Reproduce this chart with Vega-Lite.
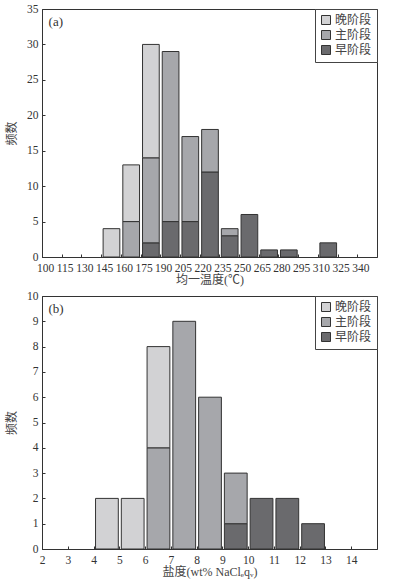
{
  "$schema": "https://vega.github.io/schema/vega-lite/v6.json",
  "padding": {"left": 5, "top": 2, "right": 10, "bottom": 2},
  "spacing": 3,
  "config": {
    "font": "Liberation Serif, Noto Sans CJK SC",
    "view": {"stroke": "#333", "strokeWidth": 1},
    "axis": {
      "domainColor": "#333", "tickColor": "#333", "tickSize": -3, "grid": false,
      "labelFont": "Liberation Serif, Noto Sans CJK SC", "labelFontSize": 11.5, "labelColor": "#333",
      "titleFont": "Liberation Serif, Noto Sans CJK SC", "titleFontSize": 12, "titleFontWeight": "normal", "titleColor": "#444",
      "labelFlush": false, "labelOverlap": false
    },
    "axisX": {"labelPadding": 8, "titlePadding": 1},
    "axisY": {"labelPadding": 7, "titlePadding": 8},
    "legend": {
      "orient": "top-right", "offset": 0, "strokeColor": "#444", "fillColor": "white", "padding": 5,
      "symbolType": "square", "symbolSize": 81, "symbolStrokeColor": "#333", "symbolStrokeWidth": 1,
      "labelFont": "Liberation Serif, Noto Sans CJK SC", "labelFontSize": 12, "labelColor": "#444",
      "labelOffset": 3, "rowPadding": 1
    },
    "bar": {"stroke": "#333", "strokeWidth": 1, "binSpacing": 3}
  },
  "resolve": {"scale": {"color": "independent", "x": "independent", "y": "independent"}, "legend": {"color": "independent"}},
  "vconcat": [
    {
      "width": 335,
      "height": 248,
      "layer": [
        {
          "data": {"values": [
            {"start": 145, "end": 160, "stage": "晚阶段", "k": 3, "count": 4},
            {"start": 160, "end": 175, "stage": "主阶段", "k": 2, "count": 5},
            {"start": 160, "end": 175, "stage": "晚阶段", "k": 3, "count": 8},
            {"start": 175, "end": 190, "stage": "早阶段", "k": 1, "count": 2},
            {"start": 175, "end": 190, "stage": "主阶段", "k": 2, "count": 12},
            {"start": 175, "end": 190, "stage": "晚阶段", "k": 3, "count": 16},
            {"start": 190, "end": 205, "stage": "早阶段", "k": 1, "count": 5},
            {"start": 190, "end": 205, "stage": "主阶段", "k": 2, "count": 24},
            {"start": 205, "end": 220, "stage": "早阶段", "k": 1, "count": 5},
            {"start": 205, "end": 220, "stage": "主阶段", "k": 2, "count": 12},
            {"start": 220, "end": 235, "stage": "早阶段", "k": 1, "count": 12},
            {"start": 220, "end": 235, "stage": "主阶段", "k": 2, "count": 6},
            {"start": 235, "end": 250, "stage": "早阶段", "k": 1, "count": 3},
            {"start": 235, "end": 250, "stage": "主阶段", "k": 2, "count": 1},
            {"start": 250, "end": 265, "stage": "早阶段", "k": 1, "count": 6},
            {"start": 265, "end": 280, "stage": "早阶段", "k": 1, "count": 1},
            {"start": 280, "end": 295, "stage": "早阶段", "k": 1, "count": 1},
            {"start": 310, "end": 325, "stage": "早阶段", "k": 1, "count": 2}
          ]},
          "mark": {"type": "bar"},
          "encoding": {
            "x": {"field": "start", "type": "quantitative", "bin": {"binned": true, "step": 15},
              "scale": {"domain": [100, 355], "nice": false, "zero": false},
              "axis": {"values": [100,115,130,145,160,175,190,205,220,235,250,265,280,295,310,325,340], "title": "均一温度(℃)", "labelOffset": 3, "labelOverlap": false}},
            "x2": {"field": "end"},
            "y": {"field": "count", "type": "quantitative", "stack": "zero",
              "scale": {"domain": [0, 35], "nice": false},
              "axis": {"values": [0,5,10,15,20,25,30,35], "title": "频数", "labelOverlap": false, "tickCount": 8}},
            "color": {"field": "stage", "type": "nominal",
              "scale": {"domain": ["晚阶段", "主阶段", "早阶段"], "range": ["#d2d2d4", "#a6a7ab", "#6a6a6d"]},
              "legend": {"title": null}},
            "order": {"field": "k", "type": "quantitative"}
          }
        },
        {
          "data": {"values": [{"label": "(a)"}]},
          "mark": {"type": "text", "align": "left", "baseline": "middle", "fontSize": 13, "color": "#333", "font": "Liberation Serif"},
          "encoding": {
            "x": {"datum": 105, "type": "quantitative"},
            "y": {"datum": 33.2, "type": "quantitative"},
            "text": {"field": "label"}
          }
        }
      ]
    },
    {
      "width": 335,
      "height": 253,
      "layer": [
        {
          "data": {"values": [
            {"start": 4, "end": 5, "stage": "晚阶段", "k": 3, "count": 2},
            {"start": 5, "end": 6, "stage": "晚阶段", "k": 3, "count": 2},
            {"start": 6, "end": 7, "stage": "主阶段", "k": 2, "count": 4},
            {"start": 6, "end": 7, "stage": "晚阶段", "k": 3, "count": 4},
            {"start": 7, "end": 8, "stage": "主阶段", "k": 2, "count": 9},
            {"start": 8, "end": 9, "stage": "主阶段", "k": 2, "count": 6},
            {"start": 9, "end": 10, "stage": "早阶段", "k": 1, "count": 1},
            {"start": 9, "end": 10, "stage": "主阶段", "k": 2, "count": 2},
            {"start": 10, "end": 11, "stage": "早阶段", "k": 1, "count": 2},
            {"start": 11, "end": 12, "stage": "早阶段", "k": 1, "count": 2},
            {"start": 12, "end": 13, "stage": "早阶段", "k": 1, "count": 1}
          ]},
          "mark": {"type": "bar"},
          "encoding": {
            "x": {"field": "start", "type": "quantitative", "bin": {"binned": true, "step": 1},
              "scale": {"domain": [2, 15], "nice": false, "zero": false},
              "axis": {"values": [2,3,4,5,6,7,8,9,10,11,12,13,14], "title": "盐度(wt% NaClₑqᵥ)", "labelOverlap": false}},
            "x2": {"field": "end"},
            "y": {"field": "count", "type": "quantitative", "stack": "zero",
              "scale": {"domain": [0, 10], "nice": false},
              "axis": {"values": [0,1,2,3,4,5,6,7,8,9,10], "title": "频数", "labelOverlap": false, "tickCount": 11}},
            "color": {"field": "stage", "type": "nominal",
              "scale": {"domain": ["晚阶段", "主阶段", "早阶段"], "range": ["#d2d2d4", "#a6a7ab", "#6a6a6d"]},
              "legend": {"title": null}},
            "order": {"field": "k", "type": "quantitative"}
          }
        },
        {
          "data": {"values": [{"label": "(b)"}]},
          "mark": {"type": "text", "align": "left", "baseline": "middle", "fontSize": 13, "color": "#333", "font": "Liberation Serif"},
          "encoding": {
            "x": {"datum": 2.25, "type": "quantitative"},
            "y": {"datum": 9.47, "type": "quantitative"},
            "text": {"field": "label"}
          }
        }
      ]
    }
  ]
}
